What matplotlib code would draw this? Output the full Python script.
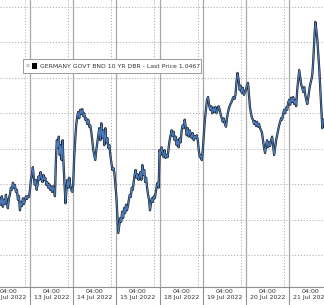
import numpy as np
import matplotlib
matplotlib.use("Agg")
import matplotlib.pyplot as plt
from matplotlib.patches import Rectangle
from matplotlib.transforms import blended_transform_factory

# intraday 10y Bund yield, sampled roughly every half hour, one list per session
dates = ["12 Jul 2022", "13 Jul 2022", "14 Jul 2022", "15 Jul 2022",
         "18 Jul 2022", "19 Jul 2022", "20 Jul 2022", "21 Jul 2022"]

jul12 = [1.080, 1.071, 1.083, 1.068, 1.078, 1.072, 1.085, 1.073, 1.066, 1.080,
         1.085, 1.095, 1.092, 1.102, 1.095, 1.099, 1.089, 1.092, 1.078, 1.083,
         1.063, 1.075, 1.069, 1.080, 1.072, 1.078, 1.083, 1.079, 1.083, 1.082]
jul13 = [1.092, 1.106, 1.113, 1.124, 1.109, 1.099, 1.106, 1.092, 1.100, 1.111,
         1.106, 1.117, 1.109, 1.103, 1.113, 1.106, 1.109, 1.099, 1.103, 1.095,
         1.100, 1.092, 1.097, 1.089, 1.097, 1.092, 1.083, 1.134, 1.162, 1.151,
         1.167, 1.141, 1.155, 1.134, 1.162, 1.127, 1.099, 1.073, 1.092, 1.106,
         1.095, 1.109, 1.097, 1.092, 1.089]
jul14 = [1.099, 1.138, 1.162, 1.183, 1.195, 1.202, 1.193, 1.205, 1.199, 1.206,
         1.196, 1.200, 1.191, 1.193, 1.185, 1.191, 1.181, 1.183, 1.174, 1.162,
         1.148, 1.141, 1.134, 1.148, 1.159, 1.169, 1.179, 1.162, 1.186, 1.165,
         1.176, 1.155, 1.179, 1.159, 1.165, 1.151, 1.155, 1.141, 1.130, 1.120,
         1.123, 1.116, 1.099]
jul15 = [1.082, 1.056, 1.031, 1.042, 1.052, 1.047, 1.061, 1.052, 1.066, 1.059,
         1.071, 1.063, 1.069, 1.078, 1.085, 1.082, 1.095, 1.092, 1.103, 1.113,
         1.120, 1.109, 1.114, 1.106, 1.111, 1.117, 1.106, 1.127, 1.113, 1.120,
         1.103, 1.109, 1.095, 1.085, 1.078, 1.063, 1.073, 1.080, 1.075, 1.083,
         1.080, 1.089, 1.097, 1.102, 1.095]
jul18 = [1.148, 1.141, 1.152, 1.145, 1.138, 1.148, 1.137, 1.141, 1.138, 1.151,
         1.162, 1.169, 1.176, 1.168, 1.174, 1.162, 1.167, 1.155, 1.162, 1.152,
         1.165, 1.159, 1.176, 1.183, 1.179, 1.191, 1.181, 1.169, 1.179, 1.167,
         1.176, 1.171, 1.165, 1.172, 1.162, 1.168, 1.165, 1.169, 1.162, 1.148,
         1.138, 1.141, 1.134]
jul19 = [1.148, 1.169, 1.191, 1.205, 1.219, 1.223, 1.212, 1.205, 1.210, 1.200,
         1.208, 1.202, 1.209, 1.200, 1.205, 1.210, 1.205, 1.198, 1.193, 1.188,
         1.193, 1.185, 1.181, 1.193, 1.202, 1.208, 1.212, 1.215, 1.219, 1.223,
         1.220, 1.226, 1.244, 1.257, 1.247, 1.233, 1.239, 1.229, 1.236, 1.226,
         1.230]
jul20 = [1.233, 1.240, 1.243, 1.226, 1.208, 1.200, 1.193, 1.191, 1.185, 1.189,
         1.182, 1.188, 1.181, 1.185, 1.179, 1.176, 1.172, 1.162, 1.151, 1.144,
         1.155, 1.162, 1.152, 1.159, 1.154, 1.162, 1.167, 1.155, 1.141, 1.151,
         1.162, 1.169, 1.176, 1.183, 1.188, 1.193, 1.191, 1.199, 1.205, 1.200,
         1.208, 1.205, 1.215]
jul21 = [1.219, 1.212, 1.222, 1.216, 1.223, 1.213, 1.219, 1.210, 1.233, 1.247,
         1.261, 1.250, 1.240, 1.236, 1.230, 1.237, 1.226, 1.219, 1.213, 1.222,
         1.233, 1.241, 1.247, 1.254, 1.275, 1.304, 1.329, 1.318, 1.304, 1.282,
         1.261, 1.233, 1.205, 1.179, 1.191]

legend_label = "GERMANY GOVT BND 10 YR DBR - Last Price 1.0467"
grid_levels = [1.00, 1.05, 1.10, 1.15, 1.20, 1.25, 1.30, 1.35]

# x axis in session units: session k starts at x = k (13 Jul = 0)
slots = 43
xs, ys = [], []
# 12 Jul: only the tail of the session is on screen
xs += list(-1 + (np.arange(len(jul12)) + 13) / slots)
ys += jul12
for k, day in enumerate([jul13, jul14, jul15, jul18, jul19, jul20]):
    xs += list(k + np.arange(len(day)) / len(day))
    ys += day
xs += list(6 + np.arange(len(jul21)) / slots)
ys += jul21

W, H = 324, 305
fig = plt.figure(figsize=(W / 100, H / 100), dpi=100)
ax = fig.add_axes([0, 18 / H, 1, 287 / H])
ax.set_xlim(-0.694, 6.806)
ax.set_ylim(0.9548, 1.3599)

for g in grid_levels:
    ax.axhline(g, color="#b0b0b0", lw=0.7, ls=(0, (1.2, 1.8)), zorder=1)
for k in range(0, 7):
    ax.axvline(k - 0.12, color="#b0b0b0", lw=0.7, ls=(0, (1.2, 1.8)), zorder=1)
    ax.axvline(k, color="#a8a8a8", lw=0.9, zorder=1)

ax.plot(xs, ys, color="#1a1a1a", lw=1.6, zorder=3)
ax.plot(xs, ys, color="#4a7dc0", lw=0.8, zorder=4)

for s in ["top", "left", "right"]:
    ax.spines[s].set_visible(False)
ax.spines["bottom"].set_color("#909090")
ax.spines["bottom"].set_linewidth(0.8)
ax.set_yticks([])

ax.set_xticks(np.arange(-1, 7) + 0.5)
ax.set_xticklabels(["04:00\n" + d for d in dates], fontsize=4.5,
                   color="#333333", linespacing=1.25)
ax.tick_params(axis="x", length=0, pad=1.5)

# separators under the axis
trans = blended_transform_factory(ax.transData, ax.transAxes)
for k in range(0, 7):
    ax.plot([k, k], [0, -18 / 287], color="#909090", lw=0.8,
            transform=trans, clip_on=False)

# legend box
fig.patches.append(Rectangle((23 / W, 1 - 73 / H), 178 / W, 14 / H,
                             transform=fig.transFigure, facecolor="white",
                             edgecolor="#9a9a9a", lw=0.7, zorder=10))
fig.patches.append(Rectangle((32 / W, 1 - 69 / H), 5 / W, 6 / H,
                             transform=fig.transFigure, facecolor="black",
                             edgecolor="none", zorder=11))
fig.text(26 / W, 1 - 66 / H, "\u2261", fontsize=3.5, color="#999999",
         va="center", ha="left", zorder=12)
fig.text(40 / W, 1 - 66 / H, legend_label, fontsize=4.4, color="#333333",
         va="center", ha="left", zorder=12)

fig.savefig("out.png", dpi=100)
